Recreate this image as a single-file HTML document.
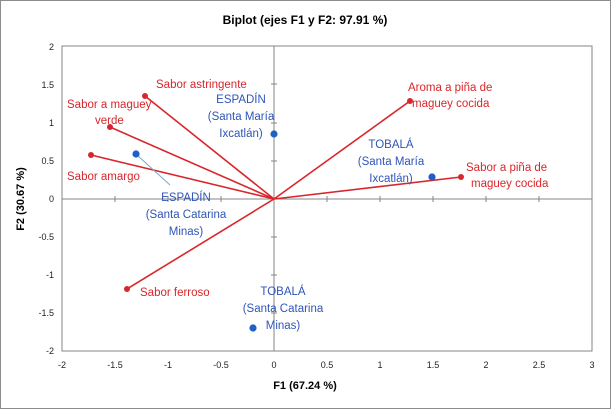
<!DOCTYPE html>
<html><head><meta charset="utf-8"><style>
html,body{margin:0;padding:0;background:#fff}
svg{display:block}
text{font-family:"Liberation Sans",sans-serif}
</style></head><body>
<svg width="611" height="409" viewBox="0 0 611 409" xmlns="http://www.w3.org/2000/svg">
<rect x="0.5" y="0.5" width="610" height="408" fill="#fff" stroke="#8c8c8c"/>
<text x="305" y="24" font-size="12" font-weight="bold" text-anchor="middle" fill="#000">Biplot (ejes F1 y F2: 97.91 %)</text>
<rect x="62" y="46" width="530" height="305" fill="#fff" stroke="#868686"/>
<line x1="274" y1="46" x2="274" y2="351" stroke="#868686"/>
<line x1="62" y1="199" x2="592" y2="199" stroke="#868686"/>
<g stroke="#868686">
<line x1="115" y1="196" x2="115" y2="202"/><line x1="168" y1="196" x2="168" y2="202"/><line x1="221" y1="196" x2="221" y2="202"/><line x1="327" y1="196" x2="327" y2="202"/><line x1="380" y1="196" x2="380" y2="202"/><line x1="433" y1="196" x2="433" y2="202"/><line x1="486" y1="196" x2="486" y2="202"/><line x1="539" y1="196" x2="539" y2="202"/>
<line x1="271" y1="84" x2="277" y2="84"/><line x1="271" y1="123" x2="277" y2="123"/><line x1="271" y1="161" x2="277" y2="161"/><line x1="271" y1="237" x2="277" y2="237"/><line x1="271" y1="275" x2="277" y2="275"/><line x1="271" y1="313" x2="277" y2="313"/>
</g>
<g font-size="9" fill="#222" text-anchor="end">
<text x="54" y="50">2</text><text x="54" y="88">1.5</text><text x="54" y="126">1</text><text x="54" y="164">0.5</text><text x="54" y="202">0</text><text x="54" y="240">-0.5</text><text x="54" y="278">-1</text><text x="54" y="316">-1.5</text><text x="54" y="354">-2</text>
</g>
<g font-size="9" fill="#222" text-anchor="middle">
<text x="62" y="368">-2</text><text x="115" y="368">-1.5</text><text x="168" y="368">-1</text><text x="221" y="368">-0.5</text><text x="274" y="368">0</text><text x="327" y="368">0.5</text><text x="380" y="368">1</text><text x="433" y="368">1.5</text><text x="486" y="368">2</text><text x="539" y="368">2.5</text><text x="592" y="368">3</text>
</g>
<text x="305" y="389" font-size="11" font-weight="bold" text-anchor="middle">F1 (67.24 %)</text>
<text transform="translate(24,199) rotate(-90)" font-size="11" font-weight="bold" text-anchor="middle">F2 (30.67 %)</text>
<g stroke="#d9262b" stroke-width="1.6">
<line x1="274" y1="199" x2="145" y2="96"/><line x1="274" y1="199" x2="110" y2="127"/><line x1="274" y1="199" x2="91" y2="155"/><line x1="274" y1="199" x2="127" y2="289"/><line x1="274" y1="199" x2="410" y2="101"/><line x1="274" y1="199" x2="461" y2="177"/>
</g>
<g fill="#d9262b">
<circle cx="145" cy="96" r="3"/><circle cx="110" cy="127" r="3"/><circle cx="91" cy="155" r="3"/><circle cx="127" cy="289" r="3"/><circle cx="410" cy="101" r="3"/><circle cx="461" cy="177" r="3"/>
</g>
<line x1="137" y1="155" x2="170" y2="185" stroke="#7da7c9" stroke-width="1"/>
<g fill="#1f5fc8">
<circle cx="274" cy="134" r="3.6"/><circle cx="136" cy="154" r="3.6"/><circle cx="432" cy="177" r="3.6"/><circle cx="253" cy="328" r="3.6"/>
</g>
<g font-size="11.5" fill="#d9262b">
<text x="156" y="88">Sabor astringente</text>
<text x="67" y="108">Sabor a maguey</text>
<text x="95" y="124">verde</text>
<text x="67" y="180">Sabor amargo</text>
<text x="140" y="296">Sabor ferroso</text>
<text x="408" y="91">Aroma a piña de</text>
<text x="412" y="107">maguey cocida</text>
<text x="466" y="171">Sabor a piña de</text>
<text x="471" y="187">maguey cocida</text>
</g>
<g font-size="11.5" fill="#2f55b8" text-anchor="middle">
<text x="241" y="103">ESPADÍN</text><text x="241" y="120">(Santa María</text><text x="241" y="137">Ixcatlán)</text>
<text x="186" y="201">ESPADÍN</text><text x="186" y="218">(Santa Catarina</text><text x="186" y="235">Minas)</text>
<text x="391" y="148">TOBALÁ</text><text x="391" y="165">(Santa María</text><text x="391" y="182">Ixcatlán)</text>
<text x="283" y="295">TOBALÁ</text><text x="283" y="312">(Santa Catarina</text><text x="283" y="329">Minas)</text>
</g>
</svg>
</body></html>
